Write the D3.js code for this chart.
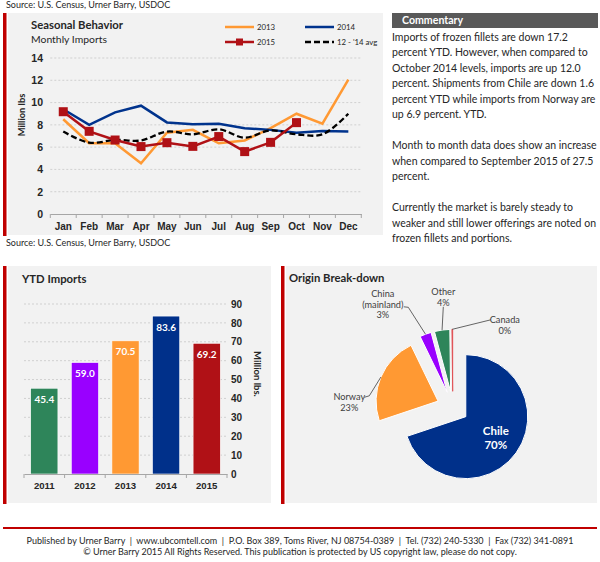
<!DOCTYPE html>
<html>
<head>
<meta charset="utf-8">
<script src="https://cdnjs.cloudflare.com/ajax/libs/d3/7.8.5/d3.min.js"></script>
<style>
  body { margin: 0; background: #fff; }
  svg { display: block; font-family: Lato, "Open Sans", sans-serif; }
</style>
</head>
<body>
<svg id="page" width="600" height="562"></svg>
<script>
// Monthly imports of frozen fillets, million lbs
var months = ["Jan", "Feb", "Mar", "Apr", "May", "Jun", "Jul", "Aug", "Sep", "Oct", "Nov", "Dec"];
var imports2013 = [8.5, 6.35, 6.35, 4.55, 7.3, 7.55, 6.35, 6.6, 7.7, 9.0, 8.1, 12.05];
var imports2014 = [9.4, 8.0, 9.12, 9.72, 8.22, 8.05, 8.1, 7.7, 7.55, 7.3, 7.45, 7.4];
var imports2015 = [9.18, 7.42, 6.64, 6.05, 6.4, 6.07, 6.95, 5.6, 6.43, 8.2];
var avg1214 = [7.4, 6.4, 6.65, 6.6, 7.4, 7.15, 7.6, 6.85, 7.5, 7.15, 7.15, 9.0];
var monthlyTicks = [0, 2, 4, 6, 8, 10, 12, 14];

// YTD imports
var ytdYears = ["2011", "2012", "2013", "2014", "2015"];
var ytdValues = [45.4, 59.0, 70.5, 83.6, 69.2];
var ytdTicks = [0, 10, 20, 30, 40, 50, 60, 70, 80, 90];

// Origin break-down
var origins = ["Chile", "Norway", "China (mainland)", "Other", "Canada"];
var originShares = [70, 23, 3, 4, 0.2];

var commentary = [
  "Imports of frozen fillets are down 17.2",
  "percent YTD. However, when compared to",
  "October 2014 levels, imports are up 12.0",
  "percent. Shipments from Chile are down 1.6",
  "percent YTD while imports from Norway are",
  "up 6.9 percent. YTD.",
  "",
  "Month to month data does show an increase",
  "when compared to September 2015 of 27.5",
  "percent.",
  "",
  "Currently the market is barely steady to",
  "weaker and still lower offerings are noted on",
  "frozen fillets and portions."
];

var RED = "#C00000", PANEL = "#F2F2F2", TXT = "#262626", AXIS = "#A6A6A6", GRID = "#C8C8C8";
var svg = d3.select("#page");

// ---------- panels ----------
function panel(x, y, w, h) {
  svg.append("rect").attr("x", x + 5).attr("y", y).attr("width", w - 5).attr("height", h).attr("fill", PANEL);
  svg.append("rect").attr("x", x).attr("y", y).attr("width", 3.5).attr("height", h + 1).attr("fill", RED);
}
panel(3, 13, 380, 222);
panel(3, 266, 268, 237);
panel(281, 266, 316, 237);

function source(y) {
  svg.append("text").attr("x", 6).attr("y", y).attr("dy", "0.35em")
    .attr("font-size", 9).attr("fill", TXT).text("Source: U.S. Census, Urner Barry, USDOC");
}
source(5);
source(243);

function title(x, y, t) {
  svg.append("text").attr("x", x).attr("y", y).attr("dy", "0.35em")
    .attr("font-size", 11.3).attr("font-weight", "bold").attr("fill", TXT).text(t);
}

// ---------- seasonal behavior line chart ----------
title(31, 25, "Seasonal Behavior");
svg.append("text").attr("x", 31).attr("y", 39.5).attr("dy", "0.35em")
  .attr("font-size", 10.4).attr("fill", TXT).text("Monthly Imports");

var x = d3.scaleBand().domain(months).range([50.3, 361.3]);
var y = d3.scaleLinear().domain([0, 14]).range([214, 58]);
var cx = function (i) { return x(months[i]) + x.bandwidth() / 2; };

svg.append("g").selectAll("line").data(monthlyTicks.slice(1)).join("line")
  .attr("x1", 50.3).attr("x2", 361.3).attr("y1", d => y(d)).attr("y2", d => y(d))
  .attr("stroke", GRID).attr("stroke-width", 0.8).attr("stroke-dasharray", "2,2");

svg.append("g").attr("transform", "translate(43,0)")
  .call(d3.axisLeft(y).tickValues(monthlyTicks).tickSize(0).tickPadding(0))
  .call(g => g.select(".domain").remove())
  .call(g => g.selectAll("text").attr("font-size", 10.5).attr("font-weight", "bold")
    .attr("fill", TXT).attr("font-family", null));

svg.append("g").attr("transform", "translate(0,214)")
  .call(d3.axisBottom(x).tickSize(0).tickPadding(9))
  .call(g => g.select(".domain").attr("stroke", AXIS))
  .call(g => g.selectAll("text").attr("font-size", 10).attr("font-weight", "bold")
    .attr("fill", TXT).attr("font-family", null));
svg.append("g").selectAll("line").data(d3.range(months.length + 1)).join("line")
  .attr("x1", i => 50.3 + i * x.step()).attr("x2", i => 50.3 + i * x.step())
  .attr("y1", 214).attr("y2", 218).attr("stroke", AXIS);

svg.append("text").attr("transform", "translate(22,115) rotate(-90)")
  .attr("text-anchor", "middle").attr("dy", "0.35em")
  .attr("font-size", 9.3).attr("font-weight", "bold").attr("fill", TXT).text("Million lbs");

var straight = d3.line().x((d, i) => cx(i)).y(d => y(d));
var smooth = d3.line().x((d, i) => cx(i)).y(d => y(d)).curve(d3.curveCatmullRom.alpha(0.5));

svg.append("path").attr("d", straight(imports2013)).attr("fill", "none")
  .attr("stroke", "#FF9933").attr("stroke-width", 2.5);
svg.append("path").attr("d", straight(imports2014)).attr("fill", "none")
  .attr("stroke", "#00338D").attr("stroke-width", 2.5);
svg.append("path").attr("d", smooth(avg1214)).attr("fill", "none")
  .attr("stroke", "#000").attr("stroke-width", 2.3).attr("stroke-dasharray", "6,3");
svg.append("path").attr("d", straight(imports2015)).attr("fill", "none")
  .attr("stroke", "#B01116").attr("stroke-width", 2.5);
svg.append("g").selectAll("rect").data(imports2015).join("rect")
  .attr("x", (d, i) => cx(i) - 4.5).attr("y", d => y(d) - 4.5)
  .attr("width", 9).attr("height", 9).attr("fill", "#B01116");

// legend
var legend = [
  { name: "2013", color: "#FF9933", lx: 225, ly: 27 },
  { name: "2014", color: "#00338D", lx: 305, ly: 27 },
  { name: "2015", color: "#B01116", lx: 225, ly: 42, marker: true },
  { name: "12 - '14 avg", color: "#000", lx: 305, ly: 42, dash: true }
];
var lg = svg.append("g").selectAll("g").data(legend).join("g")
  .attr("transform", d => "translate(" + d.lx + "," + d.ly + ")");
lg.append("line").attr("x1", 0).attr("x2", 29).attr("stroke", d => d.color)
  .attr("stroke-width", 2.5).attr("stroke-dasharray", d => d.dash ? "6,3" : null);
lg.filter(d => d.marker).append("rect").attr("x", 11).attr("y", -3.5)
  .attr("width", 7).attr("height", 7).attr("fill", d => d.color);
lg.append("text").attr("x", 32).attr("dy", "0.35em").attr("font-size", 7.8)
  .attr("fill", TXT).text(d => d.name);

// ---------- commentary ----------
svg.append("rect").attr("x", 392).attr("y", 13).attr("width", 206).attr("height", 15).attr("fill", "#595959");
svg.append("text").attr("x", 402).attr("y", 20.5).attr("dy", "0.35em")
  .attr("font-size", 10.6).attr("font-weight", "bold").attr("fill", "#fff").text("Commentary");
var com = svg.append("g").selectAll("text").data(commentary).join("text")
  .attr("x", 392).attr("y", (d, i) => 37 + i * 15.5).attr("dy", "0.35em")
  .attr("font-size", 11).attr("fill", TXT).text(d => d);
// fit the widest line into the 206px column
var widest = d3.max(com.nodes(), n => n.getComputedTextLength());
com.attr("font-size", 11 * 205 / widest);

// ---------- YTD imports bar chart ----------
title(22, 279, "YTD Imports");

var bx = d3.scaleBand().domain(ytdYears).range([24, 227]).paddingInner(0.33).paddingOuter(0.165);
var by = d3.scaleLinear().domain([0, 90]).range([474, 304]);
var barColor = d3.scaleOrdinal().domain(ytdYears)
  .range(["#2E855A", "#9900FF", "#FF9933", "#00308A", "#B01116"]);

svg.append("g").selectAll("line").data(ytdTicks.slice(1)).join("line")
  .attr("x1", 24).attr("x2", 227).attr("y1", d => by(d)).attr("y2", d => by(d))
  .attr("stroke", GRID).attr("stroke-width", 0.8).attr("stroke-dasharray", "2,2");

svg.append("g").attr("transform", "translate(231,0)")
  .call(d3.axisRight(by).tickValues(ytdTicks).tickSize(0).tickPadding(0))
  .call(g => g.select(".domain").remove())
  .call(g => g.selectAll("text").attr("font-size", 10).attr("font-weight", "bold")
    .attr("fill", TXT).attr("font-family", null));

svg.append("g").selectAll("rect").data(ytdValues).join("rect")
  .attr("x", (d, i) => bx(ytdYears[i])).attr("y", d => by(d))
  .attr("width", bx.bandwidth()).attr("height", d => by(0) - by(d))
  .attr("fill", (d, i) => barColor(ytdYears[i])).attr("stroke", "#fff").attr("stroke-width", 0.6);
svg.append("g").selectAll("text").data(ytdValues).join("text")
  .attr("x", (d, i) => bx(ytdYears[i]) + bx.bandwidth() / 2).attr("y", d => by(d) + 11)
  .attr("dy", "0.35em").attr("text-anchor", "middle")
  .attr("font-size", 10).attr("font-weight", "bold").attr("fill", "#fff").text(d => d.toFixed(1));

svg.append("g").attr("transform", "translate(0,474)")
  .call(d3.axisBottom(bx).tickSize(0).tickPadding(8))
  .call(g => g.select(".domain").attr("stroke", AXIS))
  .call(g => g.selectAll("text").attr("font-size", 9.6).attr("font-weight", "bold")
    .attr("fill", TXT).attr("font-family", null));
svg.append("g").selectAll("line").data(d3.range(ytdYears.length + 1)).join("line")
  .attr("x1", i => 24 + i * (203 / ytdYears.length))
  .attr("x2", i => 24 + i * (203 / ytdYears.length))
  .attr("y1", 474).attr("y2", 478).attr("stroke", AXIS);

svg.append("text").attr("transform", "translate(257,374) rotate(90)")
  .attr("text-anchor", "middle").attr("dy", "0.35em")
  .attr("font-size", 9.5).attr("font-weight", "bold").attr("fill", TXT).text("Million lbs.");

// ---------- origin pie ----------
title(289, 278, "Origin Break-down");

var pc = [452.8, 407.3], R = 62, EXPLODE = 16;
var pieColor = d3.scaleOrdinal().domain(origins)
  .range(["#00308A", "#FF9933", "#9900FF", "#2E855A", "#E0474C"]);
var slices = d3.pie().sort(null)(originShares);
var arc = d3.arc().innerRadius(0).outerRadius(R);
var total = d3.sum(originShares);
function dir(s) { var m = (s.startAngle + s.endAngle) / 2; return [Math.sin(m), -Math.cos(m)]; }

var pg = svg.append("g").attr("transform", "translate(" + pc[0] + "," + pc[1] + ")");
pg.selectAll("path").data(slices).join("path")
  .attr("transform", s => "translate(" + dir(s)[0] * EXPLODE + "," + dir(s)[1] * EXPLODE + ")")
  .attr("d", arc).attr("fill", (s, i) => pieColor(origins[i]))
  .attr("stroke", (s, i) => i === 4 ? pieColor(origins[i]) : "#fff").attr("stroke-width", (s, i) => i === 4 ? 0.8 : 1);

// label layout relative to pie centre: text anchor point and leader start
var pieLabels = [
  { lines: ["Chile", "70%"], tx: 43, ty: 31, inside: true },
  { lines: ["Norway", "23%"], tx: -103.5, ty: -5, lead: [[-88.5, -10], [-83.5, -11.5]] },
  { lines: ["China", "(mainland)", "3%"], tx: -70, ty: -103, lead: [[-49, -100.5], [-44.5, -100]] },
  { lines: ["Other", "4%"], tx: -9.5, ty: -110, lead: [[-9.5, -100.5]] },
  { lines: ["Canada", "0%"], tx: 52, ty: -82, lead: [[38, -87.5]] }
];
pieLabels.forEach(function (lab, i) {
  var s = slices[i];
  lab.lines[lab.lines.length - 1] = Math.round(originShares[i] / total * 100) + "%";
  if (lab.lead) {
    var d = dir(s), end = [d[0] * (R + EXPLODE), d[1] * (R + EXPLODE)];
    pg.append("polyline").attr("points", lab.lead.concat([end]).map(p => p.join(",")).join(" "))
      .attr("fill", "none").attr("stroke", "#404040").attr("stroke-width", 0.8);
  }
  var lh = lab.inside ? 14 : 10.5;
  pg.append("text").attr("text-anchor", "middle")
    .attr("font-size", lab.inside ? 11.5 : 9.2).attr("font-weight", lab.inside ? "bold" : null)
    .attr("fill", lab.inside ? "#fff" : "#404040")
    .selectAll("tspan").data(lab.lines).join("tspan")
    .attr("x", lab.tx).attr("y", (t, j) => lab.ty + (j - (lab.lines.length - 1) / 2) * lh)
    .attr("dy", "0.35em").text(t => t);
});

// ---------- footer ----------
svg.append("line").attr("x1", 3).attr("x2", 597).attr("y1", 528).attr("y2", 528)
  .attr("stroke", RED).attr("stroke-width", 2);
svg.append("text").attr("x", 300).attr("y", 541).attr("dy", "0.35em").attr("text-anchor", "middle")
  .attr("font-size", 9).attr("fill", TXT).attr("xml:space", "preserve")
  .text("Published by Urner Barry  |  www.ubcomtell.com  |  P.O. Box 389, Toms River, NJ 08754-0389  |  Tel. (732) 240-5330  |  Fax (732) 341-0891");
svg.append("text").attr("x", 300).attr("y", 552).attr("dy", "0.35em").attr("text-anchor", "middle")
  .attr("font-size", 9).attr("fill", TXT)
  .text("\u00A9 Urner Barry 2015 All Rights Reserved. This publication is protected by US copyright law, please do not copy.");
</script>
</body>
</html>
